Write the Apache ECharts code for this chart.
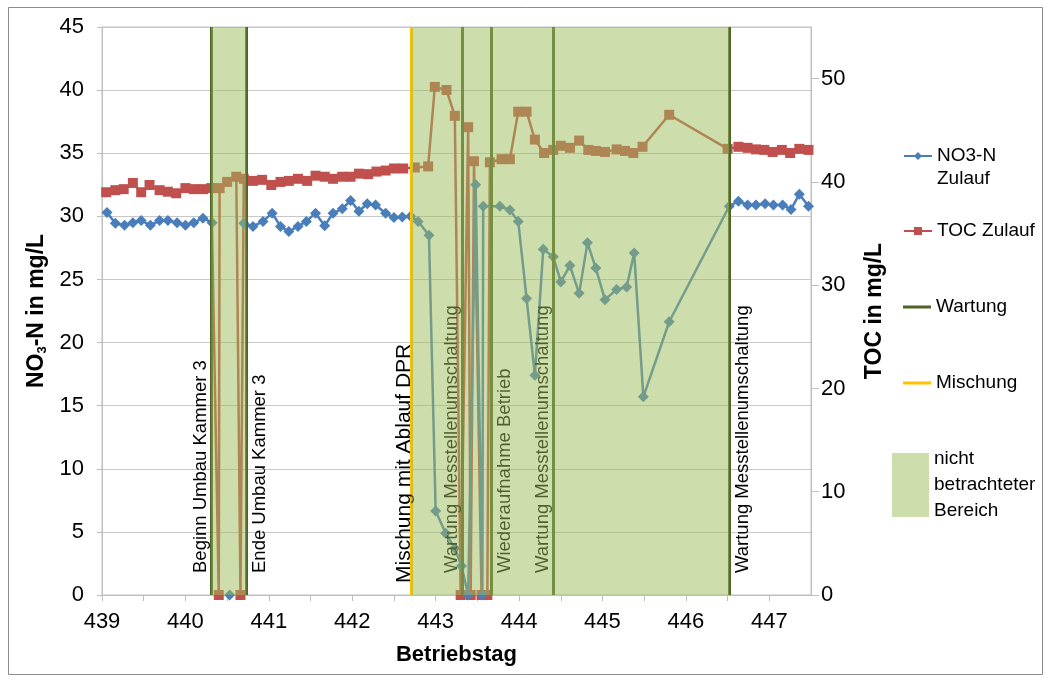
<!DOCTYPE html>
<html><head><meta charset="utf-8">
<script src="https://cdn.jsdelivr.net/npm/echarts@6/dist/echarts.min.js"></script>
<style>html,body{margin:0;padding:0;background:#fff}#c{width:1047px;height:679px}</style>
</head><body><div id="c"></div>
<script>
// ---- data ----
const no3Days = [439.06,439.16,439.27,439.37,439.47,439.58,439.69,439.79,439.90,440.00,440.10,440.21,440.32,440.42,440.53,440.62,
  440.70,440.81,440.93,441.04,441.14,441.24,441.35,441.45,441.56,441.67,441.77,441.88,441.98,442.08,442.18,442.28,442.40,442.50,442.60,442.70,
  442.79,442.92,443.00,443.12,443.23,443.31,443.39,443.48,443.56,443.57,443.77,443.89,443.99,444.09,444.19,444.29,444.41,444.50,444.61,444.72,
  444.82,444.92,445.03,445.17,445.29,445.38,445.49,445.80,446.52,446.63,446.74,446.84,446.95,447.05,447.16,447.26,447.36,447.47];
const no3Values = [30.3,29.45,29.3,29.5,29.66,29.3,29.66,29.66,29.5,29.3,29.5,29.85,29.5,'-',0,'-',
  29.45,29.2,29.6,30.25,29.2,28.8,29.2,29.6,30.25,29.25,30.25,30.6,31.25,30.4,31.0,30.9,30.25,29.9,29.95,30.0,
  29.6,28.5,6.65,4.9,3.7,2.3,0,32.5,0,30.8,30.8,30.5,29.6,23.5,17.4,27.4,26.8,24.8,26.1,23.9,
  27.9,25.9,23.4,24.2,24.4,27.1,15.7,21.65,30.8,31.2,30.9,30.9,31.0,30.9,30.9,30.55,31.75,30.8];
const tocDays = [439.05,439.16,439.26,439.37,439.47,439.57,439.69,439.79,439.89,440.00,440.10,440.21,440.31,440.40,440.41,440.50,440.61,440.66,
  440.70,440.81,440.92,441.03,441.14,441.24,441.35,441.46,441.56,441.67,441.77,441.88,441.98,442.08,442.19,442.29,442.40,442.50,442.61,442.75,
  442.91,442.99,443.13,443.23,443.30,443.39,443.42,443.46,443.55,443.62,443.65,443.79,443.89,443.99,444.09,444.19,444.30,444.41,444.50,444.61,
  444.72,444.83,444.92,445.03,445.17,445.27,445.37,445.48,445.80,446.50,446.63,446.74,446.84,446.94,447.04,447.15,447.25,447.36,447.47];
const tocValues = [39.0,39.2,39.3,39.9,39.0,39.7,39.2,39.05,38.9,39.4,39.3,39.3,39.4,0,39.4,40.0,40.5,0,
  40.3,40.1,40.2,39.7,40.0,40.1,40.3,40.1,40.6,40.5,40.3,40.5,40.5,40.8,40.75,41.0,41.1,41.3,41.3,41.4,
  41.5,49.2,48.9,46.4,0,45.3,0,42.0,0,0,41.9,42.2,42.2,46.8,46.8,44.1,42.8,43.1,43.5,43.3,
  44.0,43.1,43.0,42.9,43.15,43.0,42.8,43.4,46.5,43.2,43.4,43.3,43.15,43.1,42.9,43.1,42.8,43.2,43.1];
const wartungDays = [440.31, 440.73, 443.32, 443.67, 444.41, 446.52];
const wartungLabels = ['Beginn Umbau Kammer 3','Ende Umbau Kammer 3','Wartung Messtellenumschaltung','Wiederaufnahme Betrieb','Wartung Messtellenumschaltung','Wartung Messtellenumschaltung'];
const mischungDays = [442.71];
const mischungLabels = ['Mischung mit Ablauf DPR'];
const areaStart = [440.31, 442.71];
const areaEnd = [440.73, 446.52];
const xMin = 439, xMax = 447.5, xStep = 0.5;
const yLeftMax = 45, yLeftStep = 5;
const yRightMax = 55, yRightStep = 10;

// ---- styling / layout ----
const FONT = 'Liberation Sans, Arial, sans-serif';
const wartungSide = ['left','right','left','right','left','right'];
const mischungSide = ['left'];
function zip(a, b) { return a.map((d, i) => [d, b[i]]); }
function vLines(days, labels, sides, fontSize, along, perpLeft) {
  return days.map((d, i) => ({
    xAxis: d,
    label: {
      show: true, formatter: labels[i],
      position: sides[i] === 'left' ? 'insideStartTop' : 'insideStartBottom',
      distance: [along, sides[i] === 'left' ? perpLeft : 4],
      color: '#000', fontSize: fontSize, fontFamily: FONT
    }
  }));
}
const legendBase = { orient: 'vertical', padding: 0, itemWidth: 28, itemHeight: 10 };

const chart = echarts.init(document.getElementById('c'));
chart.setOption({
  animation: false,
  backgroundColor: '#fff',
  textStyle: { fontFamily: FONT },
  graphic: [{ type: 'rect', left: 6, top: 5, shape: { width: 1034, height: 667 },
    style: { fill: 'none', stroke: '#8c8c8c', lineWidth: 1 }, silent: true, z: -10 }],
  grid: { left: 102, right: 236, top: 27, bottom: 84, show: true, borderColor: '#bfbfbf', borderWidth: 1 },
  legend: [
    Object.assign({}, legendBase, { left: 903, top: 121.5, data: ['NO3-N Zulauf'],
      formatter: () => '\nNO3-N\nZulauf',
      textStyle: { fontSize: 19, lineHeight: 23, color: '#000' } }),
    Object.assign({}, legendBase, { left: 903, top: 221.5, data: ['TOC Zulauf'],
      textStyle: { fontSize: 19, color: '#000' } }),
    Object.assign({}, legendBase, { left: 903, top: 297.5, itemHeight: 3, icon: 'rect', data: ['Wartung'],
      textStyle: { fontSize: 19, color: '#000' } }),
    Object.assign({}, legendBase, { left: 903, top: 373.5, itemHeight: 3, icon: 'rect', data: ['Mischung'],
      textStyle: { fontSize: 19, color: '#000' } }),
    Object.assign({}, legendBase, { left: 892, top: 446, itemWidth: 37, itemHeight: 64, icon: 'rect',
      data: ['nicht betrachteter Bereich'],
      formatter: () => 'nicht\nbetrachteter\nBereich',
      textStyle: { fontSize: 19, lineHeight: 26, color: '#000' } })
  ],
  xAxis: {
    type: 'value', min: xMin, max: xMax, interval: xStep,
    name: 'Betriebstag', nameLocation: 'middle', nameGap: 49,
    nameTextStyle: { fontSize: 22, fontWeight: 'bold', color: '#000', fontFamily: FONT },
    axisLine: { show: true, lineStyle: { color: '#bfbfbf' } },
    axisTick: { show: true, length: 6, lineStyle: { color: '#bfbfbf' } },
    splitLine: { show: false },
    axisLabel: { fontSize: 22, color: '#000', margin: 16, fontFamily: FONT,
      formatter: v => (Math.abs(v - Math.round(v)) < 1e-6 ? String(Math.round(v)) : ''),
      showMaxLabel: false }
  },
  yAxis: [
    { type: 'value', min: 0, max: yLeftMax, interval: yLeftStep, position: 'left',
      name: '{b|NO}{s|3}{b|-N in mg/L}', nameLocation: 'middle', nameGap: 47, nameRotate: 90,
      nameTextStyle: { rich: {
        b: { fontSize: 23, fontWeight: 'bold', color: '#000', fontFamily: FONT },
        s: { fontSize: 13, fontWeight: 'bold', color: '#000', fontFamily: FONT, verticalAlign: 'bottom' } } },
      axisLine: { show: true, lineStyle: { color: '#bfbfbf' } },
      axisTick: { show: true, length: 5, lineStyle: { color: '#bfbfbf' } },
      splitLine: { show: true, lineStyle: { color: '#c8c8c8', width: 1 } },
      axisLabel: { fontSize: 22, color: '#000', margin: 18, fontFamily: FONT } },
    { type: 'value', min: 0, max: yRightMax, interval: yRightStep, position: 'right',
      name: 'TOC in mg/L', nameLocation: 'middle', nameGap: 52, nameRotate: 90,
      nameTextStyle: { fontSize: 23, fontWeight: 'bold', color: '#000', fontFamily: FONT },
      axisLine: { show: true, lineStyle: { color: '#bfbfbf' } },
      axisTick: { show: true, length: 8, lineStyle: { color: '#bfbfbf' } },
      splitLine: { show: false },
      axisLabel: { fontSize: 22, color: '#000', margin: 10, fontFamily: FONT, showMaxLabel: false } }
  ],
  series: [
    { name: 'NO3-N Zulauf', type: 'line', yAxisIndex: 0, z: 3,
      data: zip(no3Days, no3Values), connectNulls: false,
      symbol: 'diamond', symbolSize: 11, showAllSymbol: true,
      itemStyle: { color: '#4a7ebb' }, lineStyle: { color: '#4a7ebb', width: 2.5 } },
    { name: 'TOC Zulauf', type: 'line', yAxisIndex: 1, z: 2,
      data: zip(tocDays, tocValues),
      symbol: 'rect', symbolSize: 10, showAllSymbol: true,
      itemStyle: { color: '#c0504d' }, lineStyle: { color: '#c0504d', width: 2.5 } },
    { name: 'Wartung', type: 'line', yAxisIndex: 0, data: [], symbol: 'none', z: 2,
      itemStyle: { color: '#4f6228' }, lineStyle: { color: '#4f6228', width: 3 },
      markLine: { silent: true, symbol: ['none', 'none'], animation: false,
        lineStyle: { color: '#4f6228', width: 3, type: 'solid' },
        data: vLines(wartungDays, wartungLabels, wartungSide, 18.5, 22, 1) } },
    { name: 'Mischung', type: 'line', yAxisIndex: 0, data: [], symbol: 'none', z: 2,
      itemStyle: { color: '#ffc000' }, lineStyle: { color: '#ffc000', width: 3 },
      markLine: { silent: true, symbol: ['none', 'none'], animation: false,
        lineStyle: { color: '#ffc000', width: 3, type: 'solid' },
        data: vLines(mischungDays, mischungLabels, mischungSide, 21, 12, -3) } },
    { name: 'nicht betrachteter Bereich', type: 'custom', yAxisIndex: 0, z: 20, silent: true,
      itemStyle: { color: 'rgb(205,221,172)' },
      encode: { x: [0, 1] },
      data: zip(areaStart, areaEnd),
      renderItem: (params, api) => {
        const p0 = api.coord([api.value(0), yLeftMax]);
        const p1 = api.coord([api.value(1), 0]);
        return { type: 'rect',
          shape: { x: p0[0], y: p0[1], width: p1[0] - p0[0], height: p1[1] - p0[1] },
          style: { fill: 'rgba(155,187,89,0.5)' } };
      } }
  ]
});
</script>
</body></html>
